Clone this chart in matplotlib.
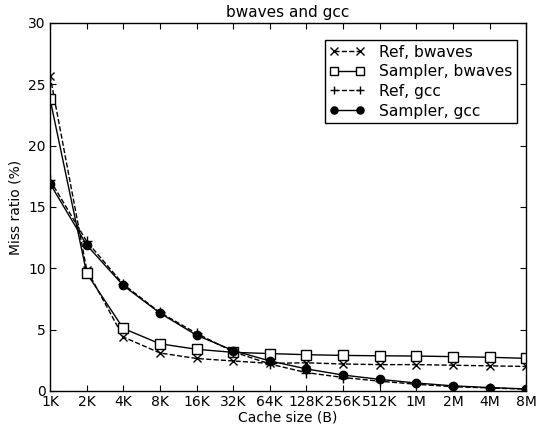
import matplotlib
matplotlib.use("Agg")
import matplotlib.pyplot as plt

sizes = ["1K", "2K", "4K", "8K", "16K", "32K", "64K", "128K", "256K", "512K", "1M", "2M", "4M", "8M"]
ref_bwaves = [25.7, 9.9, 4.4, 3.1, 2.65, 2.45, 2.25, 2.3, 2.2, 2.15, 2.15, 2.1, 2.05, 2.0]
sampler_bwaves = [23.8, 9.6, 5.1, 3.85, 3.4, 3.15, 3.05, 2.96, 2.9, 2.87, 2.85, 2.8, 2.75, 2.66]
ref_gcc = [17.2, 12.2, 8.7, 6.4, 4.7, 3.2, 2.2, 1.5, 1.1, 0.8, 0.55, 0.35, 0.25, 0.15]
sampler_gcc = [16.9, 11.9, 8.6, 6.35, 4.55, 3.3, 2.45, 1.8, 1.3, 0.95, 0.65, 0.42, 0.28, 0.17]

plt.rcParams['font.family'] = ['DejaVu Sans']
fig = plt.figure(figsize=(5.38, 4.30), dpi=100)
ax = fig.add_axes([0.093, 0.0907, 0.885, 0.856])
x = list(range(len(sizes)))

ax.plot(x, ref_bwaves, color='black', linestyle='--', marker='x', markersize=6, mew=1, lw=1, label='Ref, bwaves')
ax.plot(x, sampler_bwaves, color='black', linestyle='-', marker='s', markersize=6.5, mfc='white', mew=1, lw=1, label='Sampler, bwaves')
ax.plot(x, ref_gcc, color='black', linestyle='--', marker='+', markersize=7, mew=1, lw=1, label='Ref, gcc')
ax.plot(x, sampler_gcc, color='black', linestyle='-', marker='o', markersize=6, lw=1, label='Sampler, gcc')

ax.set_xlim(0, len(sizes) - 1)
ax.set_ylim(0, 30)
ax.set_xticks(x)
ax.set_xticklabels(sizes)
ax.set_yticks(range(0, 31, 5))
ax.tick_params(direction='in', top=True, right=True, length=4, labelsize=10, pad=3)
ax.set_xlabel('Cache size (B)', fontsize=10, labelpad=1)
ax.set_ylabel('Miss ratio (%)', fontsize=10)
ax.set_title('bwaves and gcc', fontsize=11, pad=4)
leg = ax.legend(loc='upper right', bbox_to_anchor=(0.981, 0.954), borderaxespad=0,
                fontsize=11.2, fancybox=False, framealpha=1, edgecolor='black',
                numpoints=2, markerscale=0.85, handlelength=2.3, handletextpad=0.9,
                labelspacing=0.3, borderpad=0.3)
leg.get_frame().set_linewidth(1)
for s in ax.spines.values():
    s.set_linewidth(1)
fig.savefig('out.png', dpi=100, facecolor='white')
